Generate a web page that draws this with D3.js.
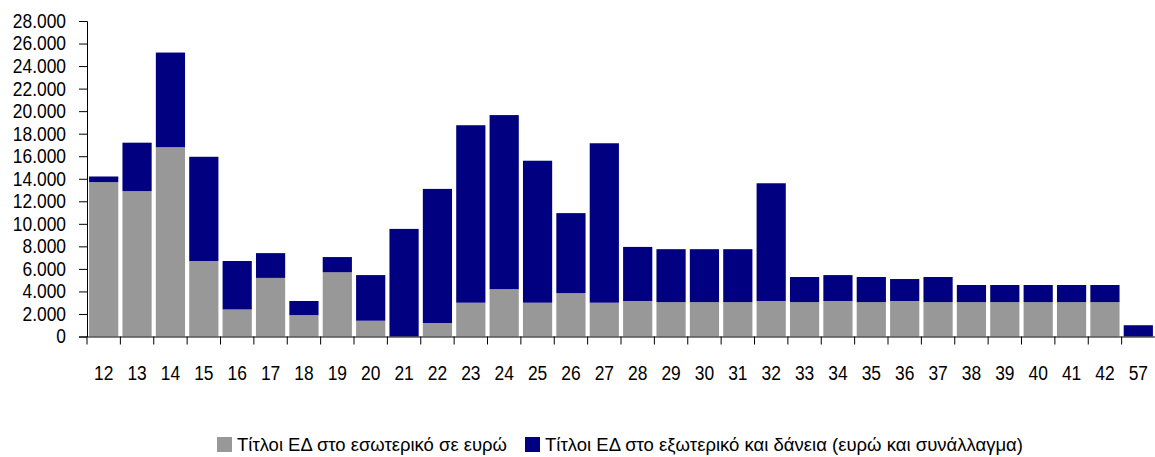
<!DOCTYPE html>
<html>
<head>
<meta charset="utf-8">
<script src="https://d3js.org/d3.v7.min.js"></script>
<style>
  body { margin: 0; background: #fff; }
  text { font-family: "Liberation Sans", Arial, sans-serif; fill: #000; }
</style>
</head>
<body>
<svg id="chart" width="1155" height="457"></svg>
<script>
// values (millions of euro)
var categories = ["12","13","14","15","16","17","18","19","20","21","22","23","24","25","26","27",
                  "28","29","30","31","32","33","34","35","36","37","38","39","40","41","42","57"]
var domestic = [13700, 12900, 16800, 6700, 2400, 5200, 1900, 5700, 1400, 0, 1200, 3000, 4200, 3000, 3850, 3000,
                3150, 3050, 3050, 3050, 3150, 3050, 3150, 3050, 3150, 3050, 3050, 3050, 3050, 3050, 3050, 0]
var foreign = [500, 4300, 8400, 9250, 4300, 2200, 1250, 1350, 4050, 9550, 11900, 15750, 15450, 12600, 7100, 14150,
               4800, 4700, 4700, 4700, 10450, 2230, 2300, 2230, 1950, 2230, 1520, 1520, 1520, 1520, 1520, 1000]
var yTicks = [0, 2000, 4000, 6000, 8000, 10000, 12000, 14000, 16000, 18000, 20000, 22000, 24000, 26000, 28000]
var seriesNames = ["Τίτλοι ΕΔ στο εσωτερικό σε ευρώ", "Τίτλοι ΕΔ στο εξωτερικό και δάνεια (ευρώ  και συνάλλαγμα)"]
var colors = ["#989898", "#000080"]

var svg = d3.select("#chart")
var pad = 0.125

var x = d3.scaleBand()
  .domain(categories)
  .range([87, 1155])
  .paddingInner(pad)
  .paddingOuter(pad / 2)

var y = d3.scaleLinear()
  .domain([0, 28000])
  .range([336.5, 21])

var rows = categories.map(function(c, i) {
  return { cat: c, domestic: domestic[i], foreign: foreign[i] }
})
var stacked = d3.stack().keys(["domestic", "foreign"])(rows)

svg.selectAll("g.series")
  .data(stacked)
  .enter().append("g")
    .attr("class", "series")
    .attr("fill", function(d, i) { return colors[i] })
  .selectAll("rect")
  .data(function(d) { return d })
  .enter().append("rect")
    .attr("x", function(d) { return x(d.data.cat) })
    .attr("width", x.bandwidth())
    .attr("y", function(d) { return y(d[1]) })
    .attr("height", function(d) { return y(d[0]) - y(d[1]) })

// y axis
var yAxis = svg.append("g")
  .attr("transform", "translate(87,0)")
  .call(d3.axisLeft(y).tickValues(yTicks).tickSize(8).tickPadding(13)
    .tickFormat(function(d) { return d3.format(",")(d).replace(/,/g, ".") }))
yAxis.select(".domain").attr("stroke", "#000")
yAxis.selectAll("text")
  .style("font-size", "20px")
  .attr("transform", "scale(0.87,1)")
  .attr("x", -21 / 0.87)

// x axis: labels centred, ticks on band edges
var xAxis = svg.append("g")
  .attr("transform", "translate(0,336.5)")
  .call(d3.axisBottom(x).tickSize(0).tickPadding(0))
xAxis.select(".domain").attr("stroke", "#000")
xAxis.selectAll("text")
  .style("font-size", "20px")
  .attr("transform", "scale(0.87,1)")
  .attr("y", 44)
  .attr("dy", 0)

var edges = categories.map(function(c) { return x(c) - x.step() * pad / 2 })
xAxis.selectAll("line.edge")
  .data(edges)
  .enter().append("line")
    .attr("class", "edge")
    .attr("x1", function(d) { return d })
    .attr("x2", function(d) { return d })
    .attr("y1", 0)
    .attr("y2", 8)
    .attr("stroke", "#000")

// legend
var legendX = [217, 525]
var legendW = [270, 478]
var legend = svg.selectAll("g.legend")
  .data(seriesNames)
  .enter().append("g")
    .attr("class", "legend")
    .attr("transform", function(d, i) { return "translate(" + legendX[i] + ",437)" })
legend.append("rect")
  .attr("width", 15)
  .attr("height", 15)
  .attr("fill", function(d, i) { return colors[i] })
legend.append("text")
  .attr("x", 20)
  .attr("y", 14)
  .style("font-size", "18px")
  .attr("textLength", function(d, i) { return legendW[i] })
  .attr("lengthAdjust", "spacingAndGlyphs")
  .text(function(d) { return d })
</script>
</body>
</html>
